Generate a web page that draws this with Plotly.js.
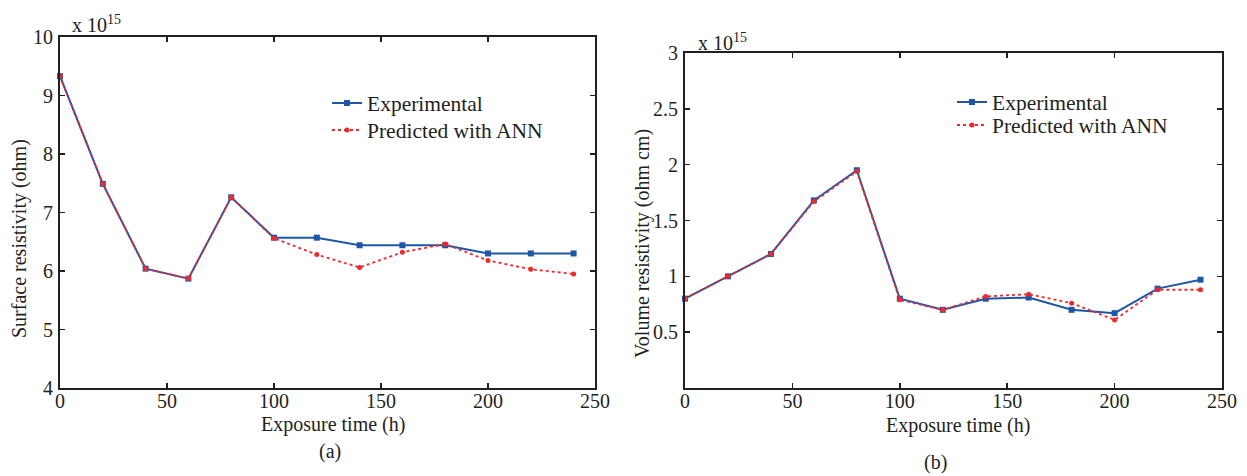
<!DOCTYPE html>
<html>
<head>
<meta charset="utf-8">
<script src="https://cdn.plot.ly/plotly-3.0.1.min.js"></script>
<style>
  html, body { margin: 0; padding: 0; background: #fff; }
  #chart { width: 1247px; height: 476px; }
</style>
</head>
<body>
<div id="chart"></div>
<script>
// Exposure times (h)
const hours = [0, 20, 40, 60, 80, 100, 120, 140, 160, 180, 200, 220, 240];

// (a) Surface resistivity, units of 1e15 ohm
const surfaceExperimental = [9.33, 7.49, 6.04, 5.87, 7.26, 6.57, 6.57, 6.44, 6.44, 6.44, 6.30, 6.30, 6.30];
const surfacePredicted    = [9.33, 7.49, 6.04, 5.87, 7.26, 6.56, 6.28, 6.06, 6.32, 6.46, 6.18, 6.03, 5.95];

// (b) Volume resistivity, units of 1e15 ohm cm
const volumeExperimental = [0.80, 1.00, 1.20, 1.68, 1.95, 0.80, 0.70, 0.80, 0.81, 0.70, 0.67, 0.89, 0.97];
const volumePredicted    = [0.80, 1.00, 1.20, 1.67, 1.94, 0.79, 0.70, 0.82, 0.84, 0.76, 0.61, 0.88, 0.88];

const seriesNames = ['Experimental', 'Predicted with ANN'];
const xTicks = [0, 50, 100, 150, 200, 250];
const surfaceTicks = [4, 5, 6, 7, 8, 9, 10];
const volumeTicks = [0.5, 1, 1.5, 2, 2.5, 3];
const xTitle = 'Exposure time (h)';
const surfaceTitle = 'Surface resistivity (ohm)';
const volumeTitle = 'Volume resistivity (ohm cm)';
const scaleNote = 'x 10<sup>15</sup>';

const W = 1247, H = 476;
const px = v => v / W;
const py = v => 1 - v / H;

const serif = 'Liberation Serif, Times New Roman, serif';
const textColor = '#231f20';
const blue = '#1f56a8';
const red = '#ee2a2e';

function expTrace(y, xa, ya, legend) {
  return {
    x: hours, y: y, xaxis: xa, yaxis: ya, legend: legend,
    name: seriesNames[0], type: 'scatter', mode: 'lines+markers',
    line: { color: blue, width: 2 },
    marker: { symbol: 'square', size: 6, color: blue },
    cliponaxis: false
  };
}
function predTrace(y, xa, ya, legend) {
  return {
    x: hours, y: y, xaxis: xa, yaxis: ya, legend: legend,
    name: seriesNames[1], type: 'scatter', mode: 'lines+markers',
    line: { color: red, width: 1.8, dash: 'dot' },
    marker: { symbol: 'circle', size: 5, color: red },
    cliponaxis: false
  };
}

const data = [
  expTrace(surfaceExperimental, 'x', 'y', 'legend'),
  predTrace(surfacePredicted, 'x', 'y', 'legend2'),
  expTrace(volumeExperimental, 'x2', 'y2', 'legend3'),
  predTrace(volumePredicted, 'x2', 'y2', 'legend4')
];

const axisCommon = {
  showline: true, linecolor: '#231f20', linewidth: 2,
  mirror: 'ticks', ticks: 'inside', ticklen: 5, tickwidth: 1.5, tickcolor: '#231f20',
  showgrid: false, zeroline: false, fixedrange: true,
  tickfont: { family: serif, size: 20, color: textColor }
};

function xAxis(domain, anchor) {
  return Object.assign({}, axisCommon, {
    domain: domain, anchor: anchor, range: [0, 250],
    tickvals: xTicks, ticklabelstandoff: -6
  });
}
function yAxis(domain, anchor, range, ticks) {
  return Object.assign({}, axisCommon, {
    domain: domain, anchor: anchor, range: range,
    tickvals: ticks, ticklabelstandoff: 1
  });
}

const legendCommon = {
  font: { family: serif, size: 21.5, color: textColor },
  bgcolor: 'rgba(0,0,0,0)', borderwidth: 0,
  xanchor: 'left', yanchor: 'middle', tracegroupgap: 0, itemwidth: 30
};

function note(text, x, y, size, opts) {
  return Object.assign({
    text: text, xref: 'paper', yref: 'paper', x: px(x), y: py(y),
    xanchor: 'center', yanchor: 'middle', showarrow: false,
    font: { family: serif, size: size, color: textColor }
  }, opts || {});
}

const layout = {
  width: W, height: H,
  margin: { l: 0, r: 0, t: 0, b: 0 },
  paper_bgcolor: '#fff', plot_bgcolor: '#fff',
  showlegend: true,
  xaxis: xAxis([px(60), px(595)], 'y'),
  yaxis: yAxis([py(388), py(37)], 'x', [4, 10], surfaceTicks),
  xaxis2: xAxis([px(685), px(1222)], 'y2'),
  yaxis2: yAxis([py(388), py(53)], 'x2', [0, 3], volumeTicks),
  legend:  Object.assign({}, legendCommon, { x: px(327), y: py(103) }),
  legend2: Object.assign({}, legendCommon, { x: px(327), y: py(130) }),
  legend3: Object.assign({}, legendCommon, { x: px(952), y: py(102) }),
  legend4: Object.assign({}, legendCommon, { x: px(952), y: py(125) }),
  annotations: [
    note(scaleNote, 70, 38, 20, { xanchor: 'left', yanchor: 'bottom' }),
    note(scaleNote, 696, 56, 20, { xanchor: 'left', yanchor: 'bottom' }),
    note(xTitle, 333, 424, 20),
    note(xTitle, 958, 425, 20),
    note(surfaceTitle, 19, 239, 20, { textangle: -90 }),
    note(volumeTitle, 643, 243, 20, { textangle: -90 }),
    note('(a)', 330, 451, 20),
    note('(b)', 935, 462, 20)
  ]
};

Plotly.newPlot('chart', data, layout, { staticPlot: true, displayModeBar: false });
</script>
</body>
</html>
